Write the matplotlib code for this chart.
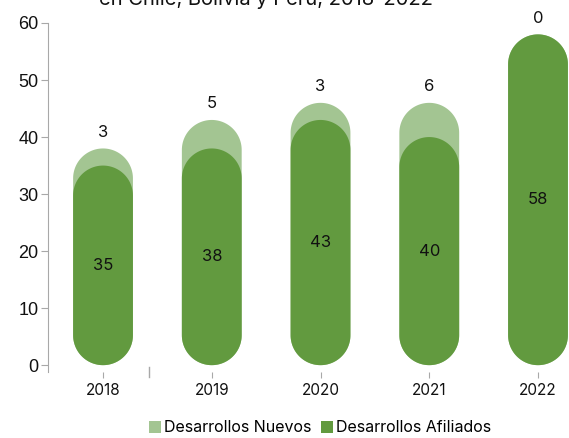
import numpy as np
import matplotlib
matplotlib.use("Agg")
import matplotlib.pyplot as plt
from matplotlib.patches import Polygon, Patch
from matplotlib.lines import Line2D

years = ["2018", "2019", "2020", "2021", "2022"]
afiliados = [35, 38, 43, 40, 58]
nuevos = [3, 5, 3, 6, 0]

C_DARK, C_LIGHT = "#629a3f", "#a3c592"
C_AX = "#a8a8a8"
plt.rcParams["font.family"] = ["Inter", "DejaVu Sans"]

fig = plt.figure(figsize=(5.69, 4.38), dpi=100)
ax = fig.add_axes([48/569, 66/438, 521/569, 349/438])
ax.set_xlim(-0.506, 4.285)
ax.set_ylim(-1.2, 60)

# caps must be half circles on screen -> work out y-units per x-unit
fig.canvas.draw()
p0 = ax.transData.transform((0, 0)); p1 = ax.transData.transform((1, 1))
aspect = (p1[0]-p0[0]) / (p1[1]-p0[1])
w = 0.55; r = w/2; ry = r*aspect
th = np.linspace(0, np.pi, 60)

def pill(x, h, col, z):
    top = np.column_stack([x + r*np.cos(th), h - ry + ry*np.sin(th)])
    bot = np.column_stack([x - r*np.cos(th), ry - ry*np.sin(th)])
    ax.add_patch(Polygon(np.vstack([top, bot]), closed=True, fc=col, ec="none", zorder=z))

for i, (a, n) in enumerate(zip(afiliados, nuevos)):
    pill(i, a+n, C_LIGHT, 2)
    pill(i, a, C_DARK, 3)
    ax.text(i, a/2, f"{a}", ha="center", va="center", fontsize=12, color="#111", zorder=5)
    ax.annotate(f"{n}", (i, a+n), xytext=(0, 11.5), textcoords="offset points",
                ha="center", va="center", fontsize=12, color="#111")

for s in ["top", "right", "bottom"]:
    ax.spines[s].set_visible(False)
ax.spines["left"].set_color(C_AX)
ax.set_yticks(range(0, 61, 10))
ax.tick_params(axis="y", colors=C_AX, length=5, labelsize=13, labelcolor="#111", pad=2)
for t in ax.get_yticklabels(): t.set_family("Liberation Sans")
ax.set_xticks(range(len(years)))
ax.set_xticklabels(years)
ax.tick_params(axis="x", colors=C_AX, length=4, labelsize=11, labelcolor="#111", pad=4)

fig.text(0.468, 1-5/438, "en Chile, Bolivia y Perú, 2018-2022", ha="center", va="baseline",
         fontsize=14.5, color="#111")
fig.add_artist(Line2D([149/569, 149/569], [1-367/438, 1-377/438], color=C_AX, lw=1))

handles = [Patch(fc=C_LIGHT, ec="none", label="Desarrollos Nuevos"),
           Patch(fc=C_DARK, ec="none", label="Desarrollos Afiliados")]
fig.legend(handles=handles, loc="center", bbox_to_anchor=(0.562, 1-428/438), ncol=2, frameon=False,
           fontsize=11.5, handlelength=0.75, handleheight=0.75, handletextpad=0.2, columnspacing=0.6,
           borderpad=0)

fig.savefig("out.png", dpi=100)
